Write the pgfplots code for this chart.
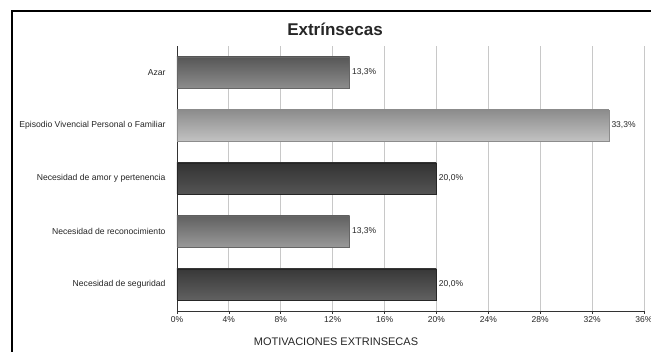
\documentclass[border=0pt]{standalone}
\usepackage{pgfplots}
\pgfplotsset{compat=1.18}
\usepackage{fontspec}
\setmainfont{Liberation Sans}
\definecolor{gridc}{HTML}{C8C8C8}
\begin{document}
\begin{tikzpicture}[x=1pt,y=1pt]
\useasboundingbox (0,0) rectangle (651,352);
\clip (0,0) rectangle (651,352);
\fill[white] (0,0) rectangle (651,352);
\draw[line width=2pt] (12,-20) rectangle (680,341);
\node[font=\bfseries\fontsize{17}{19}\selectfont, text=black!85] at (335,323) {Extrínsecas};
\node[font=\fontsize{11}{13}\selectfont, text=black!85] at (336,10) {MOTIVACIONES EXTRINSECAS};
\begin{axis}[
  at={(177pt,41pt)}, anchor=south west,
  scale only axis, width=467pt, height=265pt,
  xmin=0, xmax=36, ymin=-0.5, ymax=4.5,
  xtick={0,4,...,36},
  xticklabel={\pgfmathprintnumber{\tick}\%},
  /pgf/number format/assume math mode=true,
  ytick={0,1,2,3,4},
  yticklabels={Necesidad de seguridad,Necesidad de reconocimiento,Necesidad de amor y pertenencia,Episodio Vivencial Personal o Familiar,Azar},
  axis x line*=bottom, axis y line*=left,
  axis line style={black!80, line width=0.8pt, -},
  xmajorgrids, grid style={gridc, line width=0.8pt},
  tick align=outside,
  xtick style={black!80, line width=0.6pt},
  major tick length=3pt,
  ytick style={draw=none},
  xticklabel style={font=\fontsize{8.5}{9}\selectfont, text=black!85, yshift=1pt},
  yticklabel style={font=\fontsize{8.6}{10}\selectfont, text=black!85, xshift=-5pt},
  xbar, bar width=31pt, bar shift=0pt,
  nodes near coords, nodes near coords style={font=\fontsize{8.5}{9}\selectfont, text=black!85, xshift=-1pt},
  clip=false,
]
\addplot[draw=black!60, top color=black!66, bottom color=black!45, nodes near coords={13,3\%}] coordinates {(13.3,4)};
\addplot[draw=black!45, top color=black!45, bottom color=black!24, nodes near coords={33,3\%}] coordinates {(33.3,3)};
\addplot[draw=black!85, top color=black!80, bottom color=black!67, nodes near coords={20,0\%}] coordinates {(20.0,2)};
\addplot[draw=black!60, top color=black!62, bottom color=black!40, nodes near coords={13,3\%}] coordinates {(13.3,1)};
\addplot[draw=black!85, top color=black!78, bottom color=black!62, nodes near coords={20,0\%}] coordinates {(20.0,0)};
\end{axis}
\end{tikzpicture}
\end{document}
